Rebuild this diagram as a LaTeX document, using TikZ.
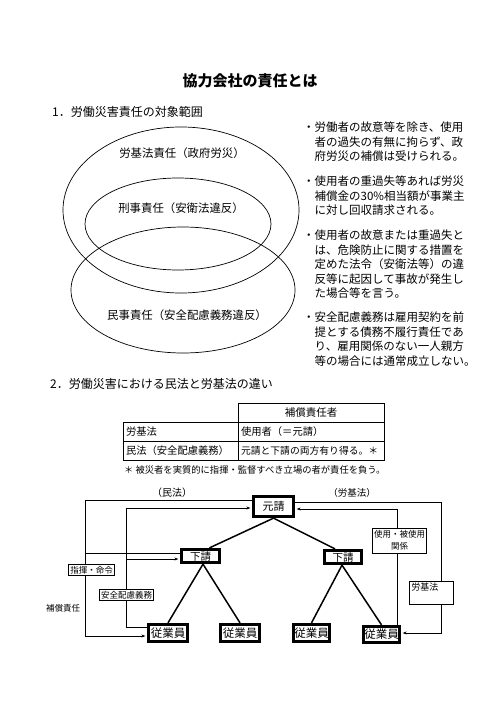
\documentclass[tikz,border=0pt]{standalone}
\usepackage{fontspec}
\setmainfont{Noto Sans CJK JP}
\usetikzlibrary{arrows.meta}
\begin{document}
\begin{tikzpicture}[x=1pt,y=-1pt,
  every node/.style={inner sep=0pt},
  ring/.style={draw, line width=0.7pt},
  bodytext/.style={align=left, anchor=north west, font=\fontsize{11.5}{14.4}\selectfont},
  cell/.style={draw, line width=0.6pt, inner sep=3pt, minimum height=19pt},
  heavybox/.style={draw, line width=2.8pt, font=\fontsize{10.5}{11}\selectfont},
  treeline/.style={line width=1.5pt},
  conn/.style={line width=0.6pt},
  arr/.style={line width=0.6pt, -{Stealth[length=4pt,width=3pt]}, shorten >=1.5pt},
  lbl/.style={draw, fill=white, line width=0.6pt, inner sep=1.5pt, font=\fontsize{8.5}{11}\selectfont}
]
\useasboundingbox (0,0) rectangle (500,706);

% title and heading 1
\node[font=\fontsize{15}{16}\selectfont\bfseries] (title) at (250,81) {協力会社の責任とは};
\node[anchor=west, font=\fontsize{12}{13}\selectfont] (h1) at (52,112) {1．労働災害責任の対象範囲};

% ellipses
\draw[ring] (181,210) ellipse [x radius=118pt, y radius=83pt];
\draw[ring] (178,224) ellipse [x radius=93pt, y radius=46pt];
\draw[ring] (183,290) ellipse [x radius=112pt, y radius=63pt];
\node[font=\fontsize{11.4}{12}\selectfont] (e_rk) at (182,153) {労基法責任（政府労災）};
\node[font=\fontsize{11.4}{12}\selectfont] (e_kj) at (181,208) {刑事責任（安衛法違反）};
\node[font=\fontsize{11.4}{12}\selectfont] (e_mj) at (187,315) {民事責任（安全配慮義務違反）};

% right column
\node[bodytext] (b1) at (303,122) {・労働者の故意等を除き、使用\\\phantom{・}者の過失の有無に拘らず、政\\\phantom{・}府労災の補償は受けられる。};
\node[bodytext] (b2) at (303,176) {・使用者の重過失等あれば労災\\\phantom{・}補償金の30\%相当額が事業主\\\phantom{・}に対し回収請求される。};
\node[bodytext] (b3) at (303,230) {・使用者の故意または重過失と\\\phantom{・}は、危険防止に関する措置を\\\phantom{・}定めた法令（安衛法等）の違\\\phantom{・}反等に起因して事故が発生し\\\phantom{・}た場合等を言う。};
\node[bodytext] (b4) at (303,312) {・安全配慮義務は雇用契約を前\\\phantom{・}提とする債務不履行責任であ\\\phantom{・}り、雇用関係のない一人親方\\\phantom{・}等の場合には通常成立しない。};

% heading 2
\node[anchor=west, font=\fontsize{12}{13}\selectfont] (h2) at (50,384) {2．労働災害における民法と労基法の違い};

% table
\node[cell, minimum width=146pt, font=\fontsize{10.5}{11}\selectfont] (th) at (311,412.5) {補償責任者};
\node[cell, text width=109pt, align=left, font=\fontsize{10.3}{11}\selectfont] (r1a) at (180.5,431.5) {労基法};
\node[cell, text width=140pt, align=left, font=\fontsize{10.3}{11}\selectfont] (r1b) at (311,431.5) {使用者（＝元請）};
\node[cell, text width=109pt, align=left, font=\fontsize{10.3}{11}\selectfont] (r2a) at (180.5,450.5) {民法（安全配慮義務）};
\node[cell, text width=140pt, align=left, font=\fontsize{9.8}{11}\selectfont] (r2b) at (311,450.5) {元請と下請の両方有り得る。＊};
\node[anchor=west, font=\fontsize{9.3}{10}\selectfont] (fn) at (124,470) {＊ 被災者を実質的に指揮・監督すべき立場の者が責任を負う。};

% tree labels
\node[font=\fontsize{10}{11}\selectfont] (minpo) at (172,493) {（民法）};
\node[font=\fontsize{9.5}{11}\selectfont] (rokihoh) at (352,493) {（労基法）};

% tree boxes
\node[heavybox, minimum width=40.5pt, minimum height=20.5pt, font=\fontsize{11}{12}\selectfont] (g) at (273.5,506.5) {元請};
\node[heavybox, minimum width=38.5pt, minimum height=13.5pt] (s1) at (200.5,556) {下請};
\node[heavybox, minimum width=37.5pt, minimum height=13.5pt] (s2) at (343,557) {下請};
\node[heavybox, minimum width=39.5pt, minimum height=17.5pt, font=\fontsize{11.5}{12}\selectfont] (w1) at (168,633) {従業員};
\node[heavybox, minimum width=39.5pt, minimum height=17.5pt, font=\fontsize{11.5}{12}\selectfont] (w2) at (240,633) {従業員};
\node[heavybox, minimum width=36.5pt, minimum height=17.5pt, font=\fontsize{11.5}{12}\selectfont] (w3) at (311.5,633) {従業員};
\node[heavybox, minimum width=36.5pt, minimum height=16.5pt, font=\fontsize{11.5}{12}\selectfont] (w4) at (381.5,634.5) {従業員};

% tree lines
\draw[treeline] (g.south) -- ([xshift=9pt]s1.north);
\draw[treeline] (g.south) -- ([xshift=-8pt]s2.north);
\draw[treeline] ([xshift=2.5pt]s1.south) -- (w1.north);
\draw[treeline] ([xshift=2.5pt]s1.south) -- (w2.north);
\draw[treeline] ([xshift=-1pt]s2.south) -- (w3.north);
\draw[treeline] ([xshift=-1pt]s2.south) -- (w4.north);

% left connectors
\coordinate (LA) at (85,500);
\coordinate (LB) at (85,636);
\coordinate (LC) at (85,553);
\draw[conn] (g.west |- LA) -- (LA) -- (LB);
\draw[arr] (LB) -- (w1.west |- LB);
\draw[conn] (LC) -- (s1.west |- LC);
\coordinate (MA) at (126,508);
\coordinate (MB) at (126,627);
\coordinate (MC) at (126,559);
\draw[arr] (w1.west |- MB) -- (MB) -- (MA) -- (g.west |- MA);
\draw[arr] (MC) -- (s1.west |- MC);

% right connectors
\coordinate (RA) at (441,502);
\coordinate (RB) at (441,633);
\draw[arr] (g.east |- RA) -- (RA) -- (RB) -- (w4.east |- RB);
\coordinate (QA) at (397,509);
\draw[arr] (QA |- w4.north) -- (QA) -- (g.east |- QA);

% connector labels
\node[lbl] (shiki) at (91.5,570) {指揮・命令};
\node[lbl] (anzen) at (126.5,595) {安全配慮義務};
\node[font=\fontsize{8.5}{11}\selectfont] (hosho) at (63,608) {補償責任};
\node[lbl, align=center, minimum width=53pt, minimum height=25pt, font=\fontsize{8.5}{12}\selectfont] (shiyo) at (399.5,540.5) {使用・被使用\\関係};
\node[lbl, anchor=north west, minimum width=44pt, minimum height=22pt, text width=40pt, align=left, font=\fontsize{9}{12}\selectfont] (rkbox) at (409,581) {労基法\\\mbox{}};
\end{tikzpicture}
\end{document}
